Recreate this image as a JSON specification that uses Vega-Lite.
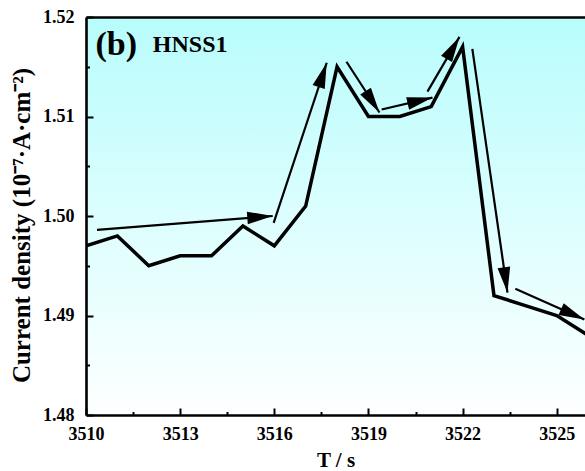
{
  "$schema": "https://vega.github.io/schema/vega-lite/v6.json",
  "width": 499,
  "height": 398,
  "autosize": {"type": "none"},
  "padding": {"left": 86, "top": 17, "right": 0, "bottom": 56},
  "background": "white",
  "config": {
    "font": "Liberation Serif",
    "view": {
      "stroke": null,
      "fill": {
        "gradient": "linear",
        "x1": 0, "y1": 0, "x2": 0, "y2": 1,
        "stops": [
          {"offset": 0, "color": "#b8fcfc"},
          {"offset": 0.5, "color": "#dcfefe"},
          {"offset": 1, "color": "#fdffff"}
        ]
      }
    },
    "axis": {
      "domainColor": "black",
      "domainWidth": 2.6,
      "tickColor": "black",
      "tickWidth": 2,
      "grid": false,
      "labelFont": "Liberation Serif",
      "labelFontWeight": "bold",
      "labelFontSize": 18,
      "labelColor": "black",
      "titleFont": "Liberation Serif",
      "titleFontWeight": "bold",
      "titleColor": "black"
    }
  },
  "datasets": {
    "current": [
      {"t": 3510, "j": 1.497},
      {"t": 3511, "j": 1.498},
      {"t": 3512, "j": 1.495},
      {"t": 3513, "j": 1.496},
      {"t": 3514, "j": 1.496},
      {"t": 3515, "j": 1.499},
      {"t": 3516, "j": 1.497},
      {"t": 3517, "j": 1.501},
      {"t": 3518, "j": 1.515},
      {"t": 3519, "j": 1.510},
      {"t": 3520, "j": 1.510},
      {"t": 3521, "j": 1.511},
      {"t": 3522, "j": 1.517},
      {"t": 3523, "j": 1.492},
      {"t": 3524, "j": 1.491},
      {"t": 3525, "j": 1.490},
      {"t": 3526, "j": 1.488}
    ],
    "arrows": [
      {"x": 3510.35, "y": 1.4986, "x2": 3515.95, "y2": 1.5000},
      {"x": 3515.98, "y": 1.4993, "x2": 3517.67, "y2": 1.5154},
      {"x": 3518.30, "y": 1.5155, "x2": 3519.35, "y2": 1.5104},
      {"x": 3519.42, "y": 1.5107, "x2": 3521.04, "y2": 1.5119},
      {"x": 3520.88, "y": 1.5125, "x2": 3521.90, "y2": 1.5180},
      {"x": 3522.31, "y": 1.5168, "x2": 3523.43, "y2": 1.4923},
      {"x": 3523.68, "y": 1.4927, "x2": 3525.88, "y2": 1.4896}
    ],
    "labels": [
      {"x": 3510.3, "y": 1.5162, "text": "(b)", "kind": "panel"},
      {"x": 3512.13, "y": 1.5165, "text": "HNSS1", "kind": "sample"}
    ]
  },
  "resolve": {"axis": {"x": "independent"}},
  "layer": [
    {
      "data": {"name": "current"},
      "mark": {"type": "line", "color": "black", "strokeWidth": 3.5, "strokeJoin": "miter", "clip": true},
      "encoding": {
        "x": {
          "field": "t", "type": "quantitative",
          "scale": {"domain": [3510, 3525.9], "nice": false, "zero": false},
          "axis": {
            "orient": "bottom",
            "title": "T / s",
            "titleFontSize": 21,
            "titleY": 51,
            "titleBaseline": "alphabetic",
            "values": [3510, 3511.5, 3513, 3514.5, 3516, 3517.5, 3519, 3520.5, 3522, 3523.5, 3525],
            "format": "d",
            "labelExpr": "(datum.value - 3510) % 3 === 0 ? datum.label : ''",
            "labelFlush": false,
            "labelOverlap": false,
            "labelBaseline": "alphabetic",
            "labelFontSize": 18,
            "labelPadding": 31,
            "tickSize": {"condition": {"test": "(datum.value - 3510) % 3 !== 0", "value": -3.5}, "value": -7}
          }
        },
        "y": {
          "field": "j", "type": "quantitative",
          "scale": {"domain": [1.48, 1.52], "nice": false, "zero": false},
          "axis": {
            "title": "Current density (10⁻⁷·A·cm⁻²)",
            "titleFontSize": 25,
            "titleX": -57,
            "titleY": 208,
            "titleAngle": -90,
            "titleAlign": "center",
            "titleBaseline": "alphabetic",
            "values": [1.48, 1.485, 1.49, 1.495, 1.5, 1.505, 1.51, 1.515, 1.52],
            "labelExpr": "round(datum.value * 1000) % 10 === 0 ? format(datum.value, '.2f') : ''",
            "labelFlush": false,
            "labelOverlap": false,
            "labelFontSize": 18,
            "labelPadding": 19,
            "tickSize": {"condition": {"test": "round(datum.value * 1000) % 10 !== 0", "value": -3.5}, "value": -7}
          }
        }
      }
    },
    {
      "data": {"name": "arrows"},
      "mark": {"type": "rule", "color": "black", "strokeWidth": 2.2},
      "encoding": {
        "x": {
          "field": "x", "type": "quantitative",
          "axis": {"orient": "top", "title": null, "labels": false, "ticks": false, "domain": true}
        },
        "y": {"field": "y", "type": "quantitative"},
        "x2": {"field": "x2"},
        "y2": {"field": "y2"}
      }
    },
    {
      "data": {"name": "arrows"},
      "transform": [
        {"calculate": "atan2(-(datum.y2 - datum.y) * 9950, (datum.x2 - datum.x) * 31.384) * 180 / PI", "as": "heading"}
      ],
      "mark": {
        "type": "point",
        "shape": "M0,0L-1,-0.25L-1,0.25Z",
        "filled": true,
        "color": "black",
        "opacity": 1,
        "size": 2600,
        "strokeWidth": 0
      },
      "encoding": {
        "x": {"field": "x2", "type": "quantitative", "axis": null},
        "y": {"field": "y2", "type": "quantitative"},
        "angle": {"field": "heading", "type": "quantitative", "scale": null}
      }
    },
    {
      "data": {"name": "labels"},
      "mark": {"type": "text", "align": "left", "baseline": "alphabetic", "fontWeight": "bold", "font": "Liberation Serif", "color": "black"},
      "encoding": {
        "x": {"field": "x", "type": "quantitative", "axis": null},
        "y": {"field": "y", "type": "quantitative"},
        "text": {"field": "text"},
        "size": {
          "field": "kind", "type": "nominal",
          "scale": {"domain": ["panel", "sample"], "range": [34, 24]},
          "legend": null
        }
      }
    }
  ]
}
